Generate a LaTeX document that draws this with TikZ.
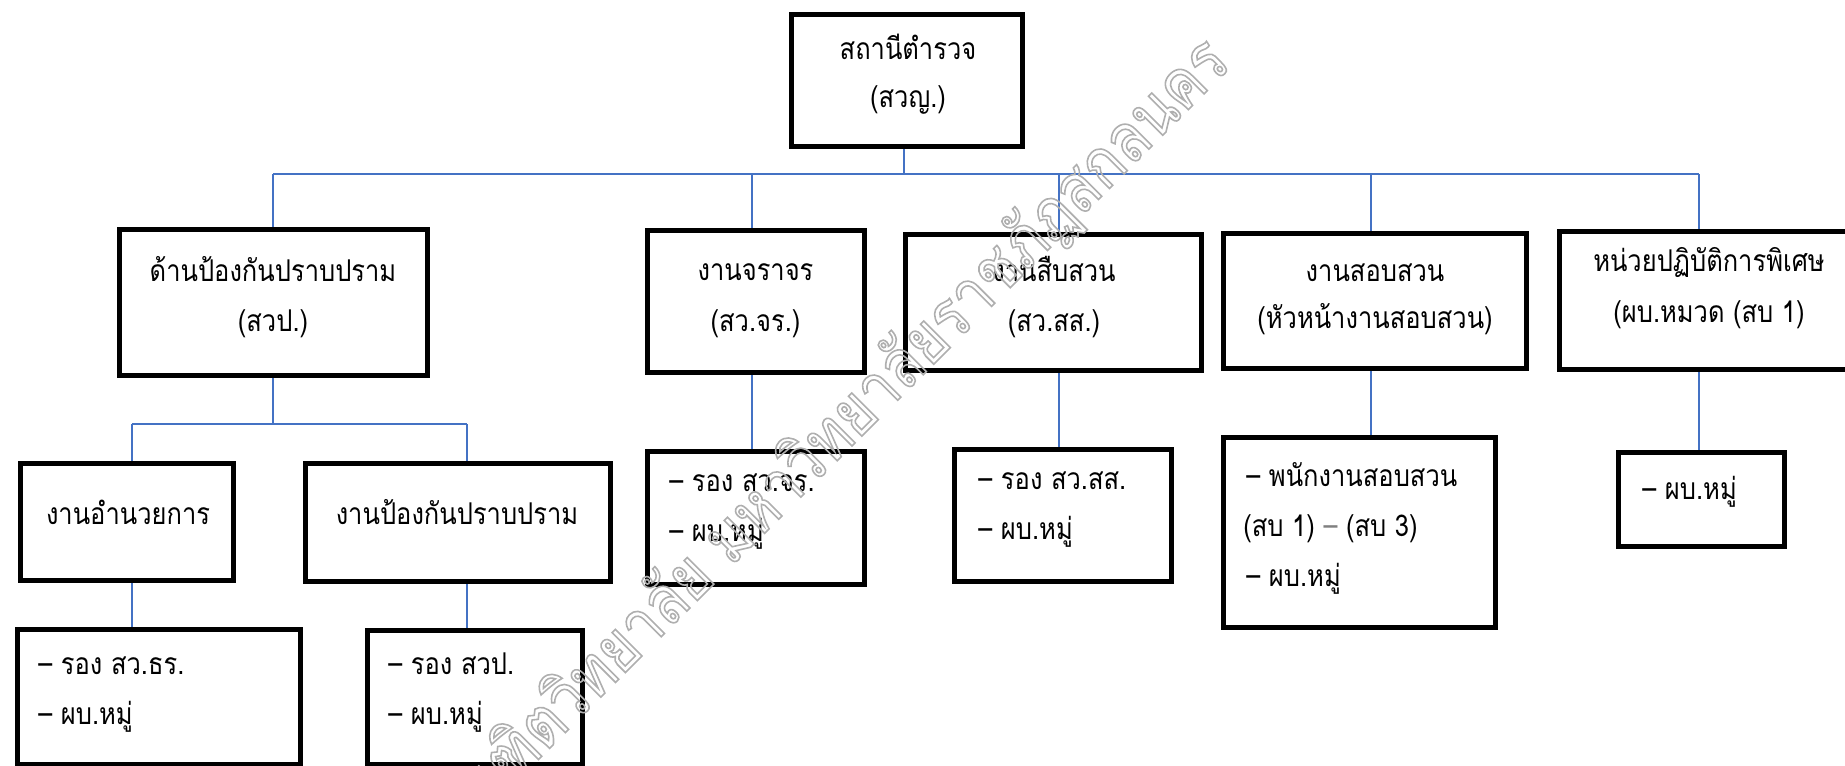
\documentclass[tikz,border=0pt]{standalone}
\usepackage{fontspec}
\newfontfamily\thaifont[Script=Thai, FakeStretch=0.85]{Loma}
\definecolor{connblue}{RGB}{68,114,196}
\definecolor{wmgray}{RGB}{175,175,175}
\begin{document}
\begin{tikzpicture}[x=0.5pt,y=-0.5pt,
  box/.style={draw=black, line width=2.5pt, inner sep=0pt, rectangle},
  conn/.style={draw=connblue, line width=1pt},
  lbl/.style={font=\thaifont\fontsize{15}{17}\selectfont, inner sep=0pt},
  ctxt/.style={lbl, anchor=mid},
  ltxt/.style={lbl, anchor=mid west},
  wmark/.style={font=\thaifont\fontsize{34}{36}\selectfont, text=wmgray, rotate=45, anchor=mid east, inner sep=0pt}]
\useasboundingbox (0,0) rectangle (1845,765);
\clip (0,0) rectangle (1845,765);

% boxes
\node[box, minimum width=115.5pt, minimum height=66pt] (top) at (907,80.5) {};
\node[box, minimum width=154pt, minimum height=73pt] (dan) at (273.5,302.5) {};
\node[box, minimum width=108.5pt, minimum height=71pt] (jr) at (756,301.5) {};
\node[box, minimum width=148pt, minimum height=68pt] (ss) at (1053.5,302.5) {};
\node[box, minimum width=151.5pt, minimum height=67.5pt] (sob) at (1375,301) {};
\node[box, minimum width=149pt, minimum height=69pt] (nw) at (1708.5,300.5) {};
\node[box, minimum width=106.5pt, minimum height=58.5pt] (am) at (127,522) {};
\node[box, minimum width=152.5pt, minimum height=59pt] (pk) at (458,522.5) {};
\node[box, minimum width=141.5pt, minimum height=67.5pt] (tr) at (159,697) {};
\node[box, minimum width=107.5pt, minimum height=67pt] (pks) at (475,697.5) {};
\node[box, minimum width=108.5pt, minimum height=66.5pt] (jrs) at (756,518) {};
\node[box, minimum width=108.5pt, minimum height=66pt] (sss) at (1063,515.5) {};
\node[box, minimum width=136pt, minimum height=95pt] (sobs) at (1359.5,532.5) {};
\node[box, minimum width=83pt, minimum height=47pt] (nws) at (1701.5,499.5) {};

% connectors
\coordinate (bus) at (904,174);
\coordinate (busL) at (273,174);
\coordinate (busR) at (1699,174);
\coordinate (dJ) at (752,174);
\coordinate (dS) at (1059,174);
\coordinate (dO) at (1371,174);
\coordinate (sb) at (273,424);
\coordinate (sbL) at (132,424);
\coordinate (sbR) at (467,424);
\draw[conn] (top.south -| bus) -- (bus);
\draw[conn] (busL) -- (busR);
\draw[conn] (busL) -- (busL |- dan.north);
\draw[conn] (dJ) -- (dJ |- jr.north);
\draw[conn] (dS) -- (dS |- ss.north);
\draw[conn] (dO) -- (dO |- sob.north);
\draw[conn] (busR) -- (busR |- nw.north);
\draw[conn] (dan.south -| sb) -- (sb);
\draw[conn] (sbL) -- (sbR);
\draw[conn] (sbL) -- (sbL |- am.north);
\draw[conn] (sbR) -- (sbR |- pk.north);
\draw[conn] (am.south -| sbL) -- (sbL |- tr.north);
\draw[conn] (pk.south -| sbR) -- (sbR |- pks.north);
\draw[conn] (jr.south -| dJ) -- (dJ |- jrs.north);
\draw[conn] (ss.south -| dS) -- (dS |- sss.north);
\draw[conn] (sob.south -| dO) -- (dO |- sobs.north);
\draw[conn] (nw.south -| busR) -- (busR |- nws.north);

% texts
\node[ctxt] (top-a) at (908,55) {สถานีตำรวจ};
\node[ctxt] (top-b) at (908,103) {(สวญ.)};
\node[ctxt] (dan-a) at (273,277) {ด้านป้องกันปราบปราม};
\node[ctxt] (dan-b) at (273,327) {(สวป.)};
\node[ctxt] (jr-a) at (755.5,276) {งานจราจร};
\node[ctxt] (jr-b) at (755.5,327) {(สว.จร.)};
\node[ctxt] (ss-a) at (1054,277) {งานสืบสวน};
\node[ctxt] (ss-b) at (1054,327) {(สว.สส.)};
\node[ctxt] (sob-a) at (1375,277) {งานสอบสวน};
\node[ctxt] (sob-b) at (1375,324) {(หัวหน้างานสอบสวน)};
\node[ctxt] (nw-a) at (1709,267) {หน่วยปฏิบัติการพิเศษ};
\node[ctxt] (nw-b) at (1709,318) {(ผบ.หมวด (สบ 1)};
\node[ctxt] (am-a) at (128,520) {งานอำนวยการ};
\node[ctxt] (pk-a) at (457,520) {งานป้องกันปราบปราม};
\node[ltxt] (tr-a) at (38,670) {– รอง สว.ธร.};
\node[ltxt] (tr-b) at (38,720) {– ผบ.หมู่};
\node[ltxt] (pks-a) at (388,670) {– รอง สวป.};
\node[ltxt] (pks-b) at (388,720) {– ผบ.หมู่};
\node[ltxt] (jrs-a) at (669,487) {– รอง สว.จร.};
\node[ltxt] (jrs-b) at (669,537) {– ผบ.หมู่};
\node[ltxt] (sss-a) at (978,485) {– รอง สว.สส.};
\node[ltxt] (sss-b) at (978,535) {– ผบ.หมู่};
\node[ltxt] (sobs-a) at (1246,482) {– พนักงานสอบสวน};
\node[ltxt] (sobs-b) at (1243,532) {(สบ 1) {\color{gray}–} (สบ 3)};
\node[ltxt] (sobs-c) at (1246,582) {– ผบ.หมู่};
\node[ltxt] (nws-a) at (1642,495) {– ผบ.หมู่};

% watermark
\node[wmark] (wmk) at (1230,62) {\special{pdf:literal direct 1 Tr 0.8 w}บัณฑิตวิทยาลัย มหาวิทยาลัยราชภัฏสกลนคร\special{pdf:literal direct 0 Tr}};
\end{tikzpicture}
\end{document}
